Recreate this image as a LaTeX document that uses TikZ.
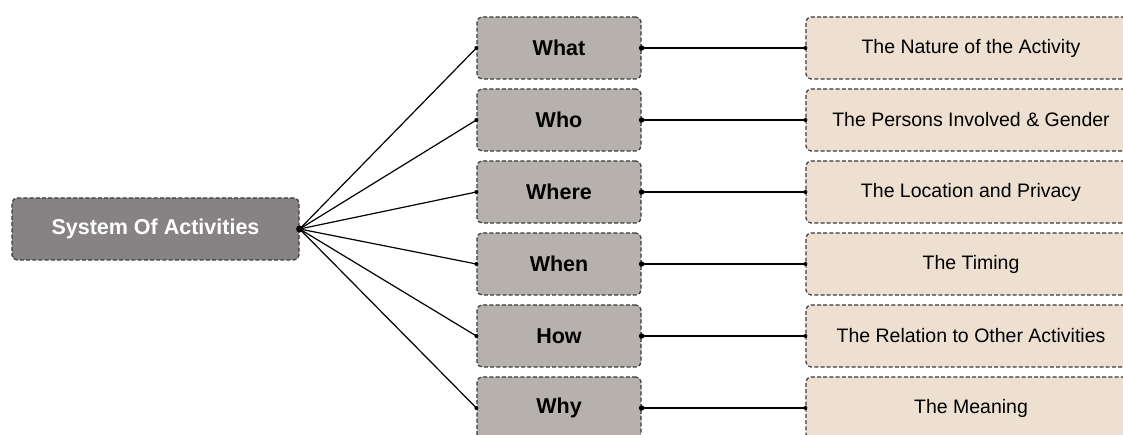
\documentclass[tikz,border=0pt]{standalone}
\usepackage{fontspec}
\setmainfont{Liberation Sans}
\definecolor{cdark}{HTML}{878384}
\definecolor{cmid}{HTML}{B6B1AC}
\definecolor{clight}{HTML}{EDE0D0}
\definecolor{cedge}{HTML}{3A3A3A}
\tikzset{
  box/.style={rectangle, rounded corners=5pt, draw=cedge, line width=1.2pt,
    dash pattern=on 4pt off 2.2pt, inner sep=0pt, minimum height=62pt},
  rootbox/.style={box, fill=cdark, minimum width=287pt, text=white,
    font=\fontsize{21.5pt}{24pt}\selectfont\bfseries},
  qbox/.style={box, fill=cmid, minimum width=164pt,
    font=\fontsize{21.5pt}{24pt}\selectfont\bfseries},
  abox/.style={box, fill=clight, minimum width=330pt,
    font=\fontsize{19.5pt}{22pt}\selectfont},
  link/.style={line width=1.2pt, black},
  bigdot/.style={circle, fill=black, inner sep=0pt, minimum size=7pt},
  middot/.style={circle, fill=black, inner sep=0pt, minimum size=5.5pt},
  smalldot/.style={circle, fill=black, inner sep=0pt, minimum size=4pt}
}
\begin{document}
\begin{tikzpicture}[x=1pt,y=1pt]
\useasboundingbox (0,0) rectangle (1123,435);
\node[rootbox] (root) at (155.5,{435-229}) {System Of Activities};
\foreach \n/\q/\a/\yy in {
  1/What/The Nature of the Activity/48,
  2/Who/The Persons Involved \& Gender/120,
  3/Where/The Location and Privacy/192,
  4/When/The Timing/264,
  5/How/The Relation to Other Activities/336,
  6/Why/The Meaning/408}{
  \node[qbox] (q\n) at (559,{435-\yy}) {\q};
  \node[abox] (a\n) at (971,{435-\yy}) {\a};
  \draw[link] (root.east) -- (q\n.west);
  \draw[link] (q\n.east) -- (a\n.west);
  \node[smalldot] at (q\n.west) {};
  \node[middot] at (q\n.east) {};
  \node[smalldot] at (a\n.west) {};
}
\node[bigdot] at (root.east) {};
\end{tikzpicture}
\end{document}
